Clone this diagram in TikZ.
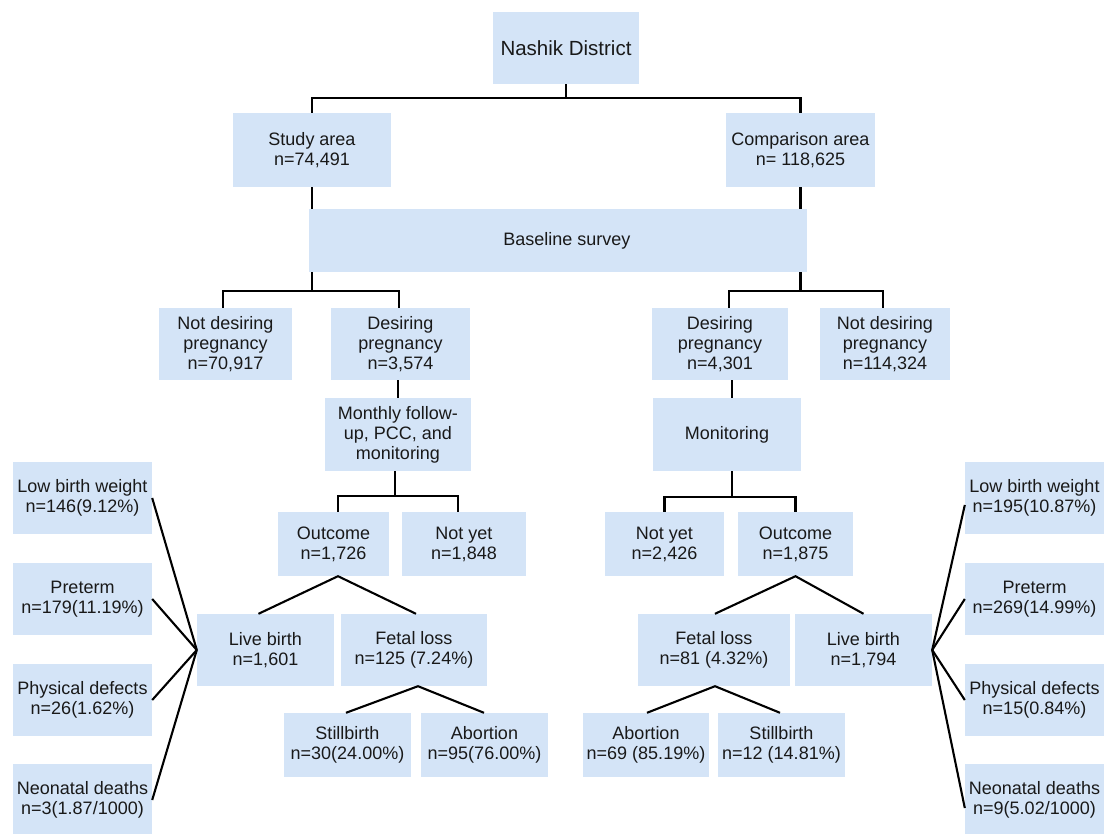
\documentclass[tikz,border=0pt]{standalone}
\usepackage{fontspec}
\setmainfont{Liberation Sans}
\definecolor{boxblue}{RGB}{212,228,247}
\begin{document}
\begin{tikzpicture}[x=1pt,y=-1pt,
  box/.style={fill=boxblue, inner sep=0pt, align=center, font=\fontsize{18}{20}\selectfont, text=black!90},
  conn/.style={line width=2.1pt, black}]
\useasboundingbox (0,0) rectangle (1104,834);
\fill[white] (0,0) rectangle (1104,834);

% top levels
\node[box,minimum width=146,minimum height=72,font=\fontsize{20.5}{24}\selectfont] (nashik) at (566,48) {Nashik District};
\node[box,minimum width=158,minimum height=74] (study) at (312,150) {Study area\\n=74,491};
\node[box,minimum width=149,minimum height=74] (comp) at (800.5,150) {Comparison area\\n= 118,625};
\node[box,minimum width=498,minimum height=63] (base) at (558,240.5) {\hspace*{18pt}Baseline survey};

\node[box,minimum width=133,minimum height=72] (ndL) at (225.5,344) {Not desiring\\pregnancy\\n=70,917};
\node[box,minimum width=139,minimum height=72] (dL) at (400.5,344) {Desiring\\pregnancy\\n=3,574};
\node[box,minimum width=136,minimum height=72] (dR) at (720,344) {Desiring\\pregnancy\\n=4,301};
\node[box,minimum width=130,minimum height=72] (ndR) at (885,344) {Not desiring\\pregnancy\\n=114,324};

\node[box,minimum width=146,minimum height=73] (monthly) at (398,434.5) {Monthly follow-\\up, PCC, and\\monitoring};
\node[box,minimum width=148,minimum height=73] (monit) at (727,434.5) {Monitoring};

\node[box,minimum width=111,minimum height=64] (outL) at (333.5,544) {Outcome\\n=1,726};
\node[box,minimum width=124,minimum height=64] (nyL) at (464,544) {Not yet\\n=1,848};
\node[box,minimum width=119,minimum height=64] (nyR) at (664.5,544) {Not yet\\n=2,426};
\node[box,minimum width=115,minimum height=64] (outR) at (795.5,544) {Outcome\\n=1,875};

\node[box,minimum width=137,minimum height=72] (lbL) at (265.5,650) {Live birth\\n=1,601};
\node[box,minimum width=146,minimum height=72] (flL) at (414,650) {Fetal loss\\n=125 (7.24\%)};
\node[box,minimum width=152,minimum height=72] (flR) at (714,650) {Fetal loss\\n=81 (4.32\%)};
\node[box,minimum width=137,minimum height=72] (lbR) at (863.5,650) {Live birth\\n=1,794};

\node[box,minimum width=127,minimum height=64] (sbL) at (347.5,745) {Stillbirth\\n=30(24.00\%)};
\node[box,minimum width=127,minimum height=64] (abL) at (484.5,745) {Abortion\\n=95(76.00\%)};
\node[box,minimum width=126,minimum height=64] (abR) at (646,745) {Abortion\\n=69 (85.19\%)};
\node[box,minimum width=127,minimum height=64] (sbR) at (781.5,745) {Stillbirth\\n=12 (14.81\%)};

% side boxes left
\node[box,minimum width=139,minimum height=72] (lbwL) at (82.5,498) {Low birth weight\\n=146(9.12\%)};
\node[box,minimum width=139,minimum height=72] (ptL) at (82.5,599) {Preterm\\n=179(11.19\%)};
\node[box,minimum width=139,minimum height=72] (pdL) at (82.5,700) {Physical defects\\n=26(1.62\%)};
\node[box,minimum width=139,minimum height=72] (ndthL) at (82.5,800) {Neonatal deaths\\n=3(1.87/1000)};
% side boxes right
\node[box,minimum width=139,minimum height=72] (lbwR) at (1034.5,498) {Low birth weight\\n=195(10.87\%)};
\node[box,minimum width=139,minimum height=72] (ptR) at (1034.5,599) {Preterm\\n=269(14.99\%)};
\node[box,minimum width=139,minimum height=72] (pdR) at (1034.5,700) {Physical defects\\n=15(0.84\%)};
\node[box,minimum width=139,minimum height=72] (ndthR) at (1034.5,800) {Neonatal deaths\\n=9(5.02/1000)};

% connectors
\draw[conn] (study.north) -- ++(0,-15) -| (nashik.south);
\draw[conn] (comp.north) -- ++(0,-15) -| (nashik.south);
\draw[conn] (study.south) -- (study.south |- base.north);
\draw[conn] (comp.south) -- (comp.south |- base.north);

\draw[conn] (base.south -| study.south) -- ++(0,19) coordinate (jL);
\draw[conn] ([xshift=-2.5pt]ndL.north) |- (jL) -| ([xshift=-1.5pt]dL.north);
\draw[conn] (base.south -| comp.south) -- ++(0,19) coordinate (jR);
\draw[conn] ([xshift=9pt]dR.north) |- (jR) -| ([xshift=-2pt]ndR.north);

\draw[conn] (monthly.north) -- (monthly.north |- dL.south);
\draw[conn] ([xshift=5pt]monit.north) -- ([xshift=5pt]monit.north |- dR.south);

\draw[conn] ([xshift=-3pt]monthly.south) -- ++(0,25) coordinate (jm);
\draw[conn] ([xshift=4.5pt]outL.north) |- (jm) -| ([xshift=-6pt]nyL.north);
\draw[conn] ([xshift=5pt]monit.south) -- ++(0,26) coordinate (jn);
\draw[conn] (nyR.north) |- (jn) -| (outR.north);

\draw[conn] ([xshift=-7pt]lbL.north) -- ([xshift=4.5pt]outL.south) -- ([xshift=2pt]flL.north);
\draw[conn] ([xshift=-1.5pt]sbL.north) -- ([xshift=4pt]flL.south) -- ([xshift=-0.5pt]abL.north);
\draw[conn] ([xshift=1pt]flR.north) -- (outR.south) -- (lbR.north);
\draw[conn] ([xshift=1pt]abR.north) -- ([xshift=1pt]flR.south) -- ([xshift=-1.5pt]sbR.north);

\foreach \n in {lbwL,ptL,pdL,ndthL} \draw[conn] (lbL.west) -- (\n.east);
\draw[conn] (lbR.east) -- ([yshift=-7pt]lbwR.west);
\draw[conn] (lbR.east) -- (ptR.west);
\draw[conn] (lbR.east) -- (pdR.west);
\draw[conn] (lbR.east) -- ([yshift=-8pt]ndthR.west);
\end{tikzpicture}
\end{document}
